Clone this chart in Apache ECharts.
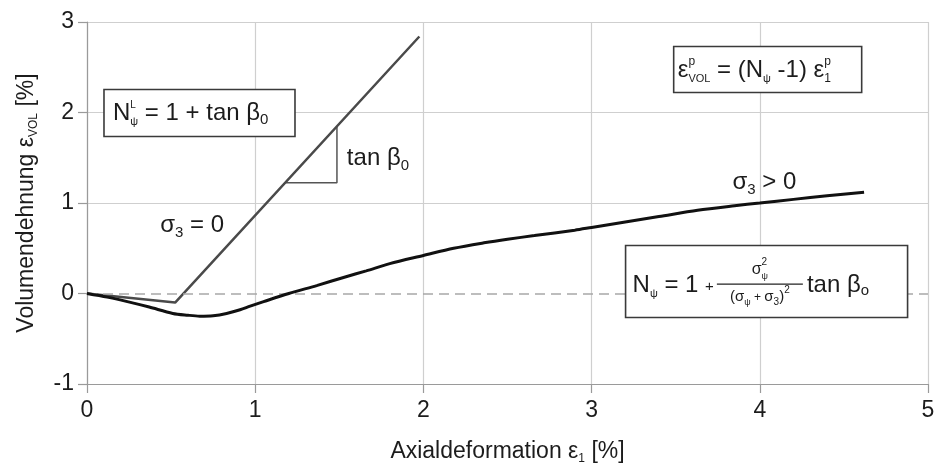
<!DOCTYPE html>
<html><head><meta charset="utf-8">
<script src="https://cdn.jsdelivr.net/npm/echarts@6/dist/echarts.min.js"></script>
<style>html,body{margin:0;padding:0;background:#fff}#c{width:936px;height:463px}</style>
</head><body><div id="c"></div>
<script>
// ---------- data ----------
const xTicks = [0, 1, 2, 3, 4, 5];
const yTicks = [-1, 0, 1, 2, 3];
const xTitle = 'Axialdeformation ε';
const yTitle = 'Volumendehnung ε';
// sigma3 > 0 curve (measured)
const curveX = [0, 0.12, 0.24, 0.37, 0.51, 0.6, 0.67, 0.75, 0.83, 0.91, 0.97, 1.05, 1.2, 1.37, 1.53, 1.66, 1.8, 2.0, 2.18, 2.36, 2.5, 2.66, 2.9, 3.0, 3.2, 3.4, 3.63, 3.85, 4.0, 4.2, 4.4, 4.62];
const curveY = [0, -0.04, -0.09, -0.15, -0.22, -0.24, -0.25, -0.245, -0.22, -0.18, -0.14, -0.09, 0.0, 0.09, 0.18, 0.25, 0.33, 0.42, 0.50, 0.56, 0.60, 0.64, 0.70, 0.73, 0.79, 0.85, 0.92, 0.97, 1.0, 1.04, 1.08, 1.12];
// sigma3 = 0 bilinear line
const linX = [0, 0.524, 1.976];
const linY = [0, -0.10, 2.84];
// slope triangle
const slopeX = [1.18, 1.486, 1.486];
const slopeY = [1.225, 1.225, 1.84];

// ---------- chart ----------
const FF = "'Liberation Sans', Arial, Helvetica, sans-serif";
const TXT = '#1c1c1c';
const chart = echarts.init(document.getElementById('c'), null, {renderer: 'canvas'});
const zip = (a, b) => a.map((v, i) => [v, b[i]]);

chart.setOption({
  animation: false,
  backgroundColor: '#fff',
  grid: {left: 87, right: 8, top: 22, bottom: 79, containLabel: false, outerBoundsMode: 'none'},
  xAxis: {
    type: 'value', min: xTicks[0], max: xTicks[xTicks.length - 1], interval: 1,
    name: '{a|' + xTitle + '}{s|1}{a| [%]}',
    nameLocation: 'middle', nameGap: 55,
    nameTextStyle: {rich: {
      a: {fontFamily: FF, fontSize: 23, color: TXT, lineHeight: 26},
      s: {fontFamily: FF, fontSize: 12, color: TXT, lineHeight: 12, verticalAlign: 'bottom'}
    }},
    axisLine: {show: true, onZero: false, lineStyle: {color: '#9a9a9a', width: 1.2}},
    axisTick: {show: true, inside: false, length: 9, lineStyle: {color: '#9a9a9a', width: 1.2}},
    axisLabel: {fontFamily: FF, fontSize: 23, color: TXT, margin: 15},
    splitLine: {show: true, lineStyle: {color: '#cfcfcf', width: 1.2}}
  },
  yAxis: {
    type: 'value', min: yTicks[0], max: yTicks[yTicks.length - 1], interval: 1,
    name: '{a|' + yTitle + '}{s|VOL}{a| [%]}',
    nameLocation: 'middle', nameGap: 47, nameRotate: 90,
    nameTextStyle: {rich: {
      a: {fontFamily: FF, fontSize: 23, color: TXT, lineHeight: 26},
      s: {fontFamily: FF, fontSize: 12, color: TXT, lineHeight: 12, verticalAlign: 'bottom'}
    }},
    axisLine: {show: true, onZero: false, lineStyle: {color: '#9a9a9a', width: 1.2}},
    axisTick: {show: true, inside: false, length: 9, lineStyle: {color: '#9a9a9a', width: 1.2}},
    axisLabel: {fontFamily: FF, fontSize: 23, color: TXT, margin: 13},
    splitLine: {show: true, lineStyle: {color: ['#cfcfcf', 'rgba(0,0,0,0)', '#cfcfcf', '#cfcfcf', '#cfcfcf'], width: 1.2}}
  },
  series: [
    {
      type: 'line', data: [], symbol: 'none', silent: true, z: 1,
      markLine: {
        silent: true, symbol: 'none', label: {show: false},
        lineStyle: {color: '#a8a8a8', type: [10, 6], width: 1.5},
        data: [{yAxis: 0}]
      }
    },
    {type: 'line', data: zip(slopeX, slopeY), symbol: 'none', silent: true, z: 3,
      lineStyle: {color: '#555', width: 1.5}},
    {type: 'line', data: zip(linX, linY), symbol: 'none', silent: true, z: 4,
      lineStyle: {color: '#4a4a4a', width: 2.5}},
    {type: 'line', data: zip(curveX, curveY), symbol: 'none', silent: true, z: 5, smooth: 0.3,
      lineStyle: {color: '#111', width: 3}}
  ]
});

// ---------- annotations ----------
const mctx = document.createElement('canvas').getContext('2d');
function tw(t, s) { mctx.font = s + 'px ' + FF; return mctx.measureText(t).width; }
function txt(x, base, t, s) {
  return {type: 'text', x: x, y: base - 0.35 * s, z: 110, silent: true,
    style: {text: t, font: s + 'px ' + FF, fill: TXT, align: 'left', verticalAlign: 'middle',
            textAlign: 'left', textVerticalAlign: 'middle'}};
}
// pieces: [text, size, dy, advance]
function run(x, base, pieces) {
  const els = []; let cx = x;
  pieces.forEach(p => {
    const t = p[0], s = p[1], dy = p[2] || 0, adv = p[3] === undefined ? true : p[3];
    els.push(txt(cx, base + dy, t, s));
    if (adv) cx += tw(t, s);
  });
  return {els: els, width: cx - x};
}
function widthOf(pieces) {
  let w = 0; pieces.forEach(p => { if (p[3] === undefined || p[3]) w += tw(p[0], p[1]); }); return w;
}
const px = (x, y) => chart.convertToPixel({xAxisIndex: 0, yAxisIndex: 0}, [x, y]);
function box(x, y, w, h) {
  return {type: 'rect', z: 105, silent: true, shape: {x: x, y: y, width: w, height: h},
    style: {fill: '#fff', stroke: '#3a3a3a', lineWidth: 1.6}};
}

const els = [];
// free labels
let p = px(0.435, 0.66);
els.push(...run(p[0], p[1], [['σ', 24], ['3', 15, 4], [' = 0', 24]]).els);
p = px(1.545, 1.40);
els.push(...run(p[0], p[1], [['tan β', 24], ['0', 15, 4]]).els);
p = px(3.837, 1.13);
els.push(...run(p[0], p[1], [['σ', 24], ['3', 15, 4], [' > 0', 24]]).els);

// box 1: N_psi^L = 1 + tan beta0
p = px(0.101, 2.254);
els.push(box(p[0], p[1], 191, 47));
els.push(...run(p[0] + 9, p[1] + 32, [
  ['N', 24], ['L', 10, -13, false], ['ψ', 11, 4], [' = 1 + tan β', 24], ['0', 15, 4]
]).els);

// box 2: eps_VOL^p = (N_psi - 1) eps_1^p
p = px(3.488, 2.729);
els.push(box(p[0], p[1], 188, 46));
els.push(...run(p[0] + 4, p[1] + 32, [
  ['ε', 24], ['p', 12, -13, false], ['VOL', 11, 4], [' = (N', 24], ['ψ', 11, 4], [' -1) ε', 24],
  ['p', 12, -13, false], ['1', 12, 4]
]).els);

// box 3: N_psi = 1 + sigma_psi^2/(sigma_psi+sigma_3)^2 tan beta_o
p = px(3.202, 0.530);
const bx = p[0], by = p[1];
els.push(box(bx, by, 282, 72));
const r1 = run(bx + 7, by + 48, [['N', 24], ['ψ', 11, 4], [' = 1 ', 24], ['+', 15, -1]]);
els.push(...r1.els);
const fx0 = bx + 7 + r1.width + 3, fw = 86;
const fc = fx0 + fw / 2;
const num = [['σ', 16], ['2', 10, -10, false], ['ψ', 9, 4]];
const den = [['(σ', 15], ['ψ', 9, 3], [' + ', 12, -1], ['σ', 15], ['3', 10, 3], [')', 15], ['2', 10, -9]];
els.push(...run(fc - widthOf(num) / 2, by + 30, num).els);
els.push({type: 'line', z: 110, silent: true,
  shape: {x1: fx0, y1: by + 38.5, x2: fx0 + fw, y2: by + 38.5}, style: {stroke: '#222', lineWidth: 1.3}});
els.push(...run(fc - widthOf(den) / 2, by + 57, den).els);
els.push(...run(fx0 + fw + 4, by + 48, [['tan β', 24], ['o', 15, 3]]).els);

chart.setOption({graphic: {elements: els}});
</script>
</body></html>
